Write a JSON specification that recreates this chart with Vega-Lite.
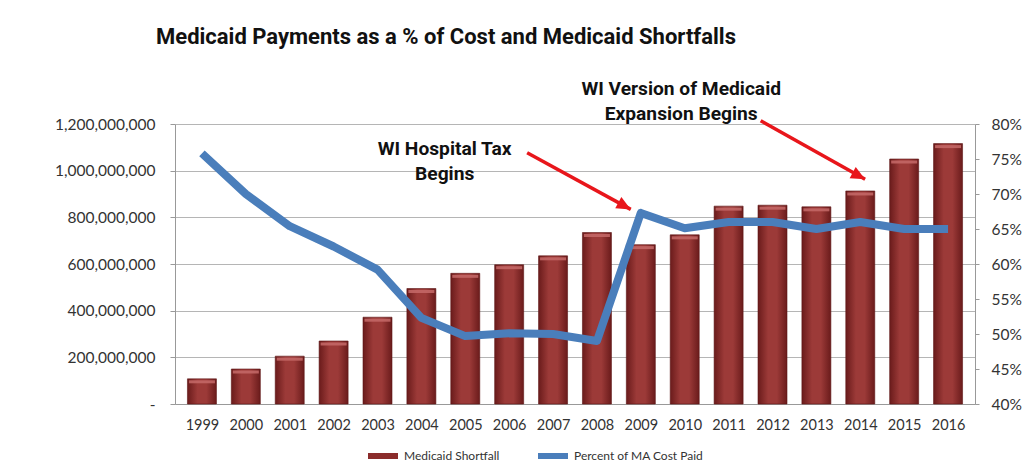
{
  "$schema": "https://vega.github.io/schema/vega-lite/v6.json",
  "width": 800,
  "height": 280,
  "autosize": "none",
  "padding": {"left": 175, "top": 124, "right": 55, "bottom": 70},
  "background": "white",
  "title": {
    "text": "Medicaid Payments as a % of Cost and Medicaid Shortfalls",
    "anchor": "start",
    "frame": "group",
    "dx": -19,
    "offset": 31,
    "font": "Roboto",
    "fontSize": 22,
    "fontWeight": "bold",
    "color": "#111111"
  },
  "config": {
    "view": {"stroke": null},
    "font": "Lato",
    "axis": {"labelFont": "Lato", "labelColor": "#333333", "domainColor": "#999999", "tickColor": "#999999"},
    "legend": {"labelFont": "Lato"}
  },
  "datasets": {
    "main": [
      {"year": 1999, "shortfall": 108000000, "pct": 0.758},
      {"year": 2000, "shortfall": 150000000, "pct": 0.700},
      {"year": 2001, "shortfall": 205000000, "pct": 0.654},
      {"year": 2002, "shortfall": 270000000, "pct": 0.625},
      {"year": 2003, "shortfall": 372000000, "pct": 0.592},
      {"year": 2004, "shortfall": 495000000, "pct": 0.523},
      {"year": 2005, "shortfall": 560000000, "pct": 0.497},
      {"year": 2006, "shortfall": 597000000, "pct": 0.501},
      {"year": 2007, "shortfall": 635000000, "pct": 0.500},
      {"year": 2008, "shortfall": 735000000, "pct": 0.490},
      {"year": 2009, "shortfall": 683000000, "pct": 0.673},
      {"year": 2010, "shortfall": 725000000, "pct": 0.651},
      {"year": 2011, "shortfall": 848000000, "pct": 0.660},
      {"year": 2012, "shortfall": 852000000, "pct": 0.660},
      {"year": 2013, "shortfall": 845000000, "pct": 0.650},
      {"year": 2014, "shortfall": 913000000, "pct": 0.660},
      {"year": 2015, "shortfall": 1050000000, "pct": 0.650},
      {"year": 2016, "shortfall": 1116000000, "pct": 0.650}
    ],
    "notes": [
      {"nx": 2004.53, "ny": 1093000000, "label": "WI Hospital Tax\nBegins"},
      {"nx": 2009.92, "ny": 1350000000, "label": "WI Version of Medicaid\nExpansion Begins"}
    ],
    "arrows": [
      {"ax": 2006.41, "ay": 1077000000, "bx": 2008.77, "by": 834000000},
      {"ax": 2011.73, "ay": 1214000000, "bx": 2014.11, "by": 963000000}
    ]
  },
  "resolve": {"scale": {"y": "independent"}},
  "layer": [
    {
      "data": {"name": "main"},
      "mark": {
        "type": "bar",
        "size": 29,
        "stroke": "#5e1616",
        "strokeWidth": 0.6,
        "fill": {
          "gradient": "linear", "x1": 0, "x2": 1, "y1": 0, "y2": 0,
          "stops": [
            {"offset": 0, "color": "#6a1b1b"},
            {"offset": 0.35, "color": "#9c3a38"},
            {"offset": 0.65, "color": "#9c3a38"},
            {"offset": 1, "color": "#6a1b1b"}
          ]
        }
      },
      "encoding": {
        "x": {
          "field": "year", "type": "quantitative",
          "scale": {"domain": [1998.5, 2016.5], "nice": false, "zero": false},
          "axis": {
            "title": null,
            "values": [1999,2000,2001,2002,2003,2004,2005,2006,2007,2008,2009,2010,2011,2012,2013,2014,2015,2016],
            "format": "d",
            "ticks": false,
            "grid": false,
            "labelFontSize": 14.5,
            "labelPadding": 14,
            "labelFlush": false,
            "domainColor": "#999999"
          }
        },
        "y": {
          "field": "shortfall", "type": "quantitative",
          "scale": {"domain": [0, 1200000000], "nice": false},
          "axis": {
            "title": null,
            "orient": "left",
            "values": [0, 200000000, 400000000, 600000000, 800000000, 1000000000, 1200000000],
            "labelExpr": "datum.value == 0 ? '-      ' : format(datum.value, ',')",
            "labelFontSize": 15.5,
            "labelPadding": 15,
            "tickSize": 5,
            "grid": true,
            "gridColor": "#b5b5b5",
            "gridWidth": 1
          }
        },
        "color": {
          "datum": "Medicaid Shortfall",
          "type": "nominal",
          "scale": {"domain": ["Medicaid Shortfall", "Percent of MA Cost Paid"], "range": ["#8b2c2b", "#4a7ebb"]},
          "legend": {
            "title": null,
            "orient": "none",
            "legendX": 190,
            "legendY": 314,
            "direction": "horizontal",
            "symbolType": "stroke",
            "symbolSize": 900,
            "symbolStrokeWidth": 6,
            "labelFontSize": 12,
            "labelColor": "#333333",
            "columnPadding": 26,
            "labelOffset": 3
          }
        }
      }
    },
    {
      "data": {"name": "main"},
      "mark": {"type": "tick", "orient": "horizontal", "size": 26, "thickness": 3, "yOffset": 3, "color": "#c56a68", "opacity": 0.85},
      "encoding": {
        "x": {"field": "year", "type": "quantitative"},
        "y": {"field": "shortfall", "type": "quantitative", "scale": {"domain": [0, 1200000000], "nice": false}, "axis": null}
      }
    },
    {
      "data": {"name": "main"},
      "mark": {"type": "line", "strokeWidth": 8, "strokeJoin": "round", "color": "#4a7ebb"},
      "encoding": {
        "x": {"field": "year", "type": "quantitative"},
        "y": {
          "field": "pct", "type": "quantitative",
          "scale": {"domain": [0.4, 0.8], "nice": false, "zero": false},
          "axis": {
            "title": null,
            "orient": "right",
            "values": [0.4, 0.45, 0.5, 0.55, 0.6, 0.65, 0.7, 0.75, 0.8],
            "format": ".0%",
            "labelFontSize": 15.5,
            "labelPadding": 12,
            "tickSize": 4,
            "grid": false
          }
        },
        "color": {"datum": "Percent of MA Cost Paid", "type": "nominal"}
      }
    },
    {
      "data": {"name": "notes"},
      "mark": {
        "type": "text",
        "lineBreak": "\n",
        "lineHeight": 25,
        "align": "center",
        "baseline": "middle",
        "font": "Roboto",
        "fontSize": 19.2,
        "fontWeight": "bold",
        "color": "#111111"
      },
      "encoding": {
        "x": {"field": "nx", "type": "quantitative"},
        "y": {"field": "ny", "type": "quantitative", "scale": {"domain": [0, 1200000000], "nice": false}, "axis": null},
        "text": {"field": "label"}
      }
    },
    {
      "data": {"name": "arrows"},
      "mark": {"type": "rule", "color": "#e8161b", "strokeWidth": 3.5},
      "encoding": {
        "x": {"field": "ax", "type": "quantitative"},
        "y": {"field": "ay", "type": "quantitative", "scale": {"domain": [0, 1200000000], "nice": false}, "axis": null},
        "x2": {"field": "bx"},
        "y2": {"field": "by"}
      }
    },
    {
      "data": {"name": "arrows"},
      "mark": {
        "type": "point",
        "shape": "M0,0L-1,-0.45L-1,0.45Z",
        "size": 800,
        "angle": 28.5,
        "filled": true,
        "opacity": 1,
        "color": "#e8161b"
      },
      "encoding": {
        "x": {"field": "bx", "type": "quantitative"},
        "y": {"field": "by", "type": "quantitative", "scale": {"domain": [0, 1200000000], "nice": false}, "axis": null}
      }
    }
  ]
}
